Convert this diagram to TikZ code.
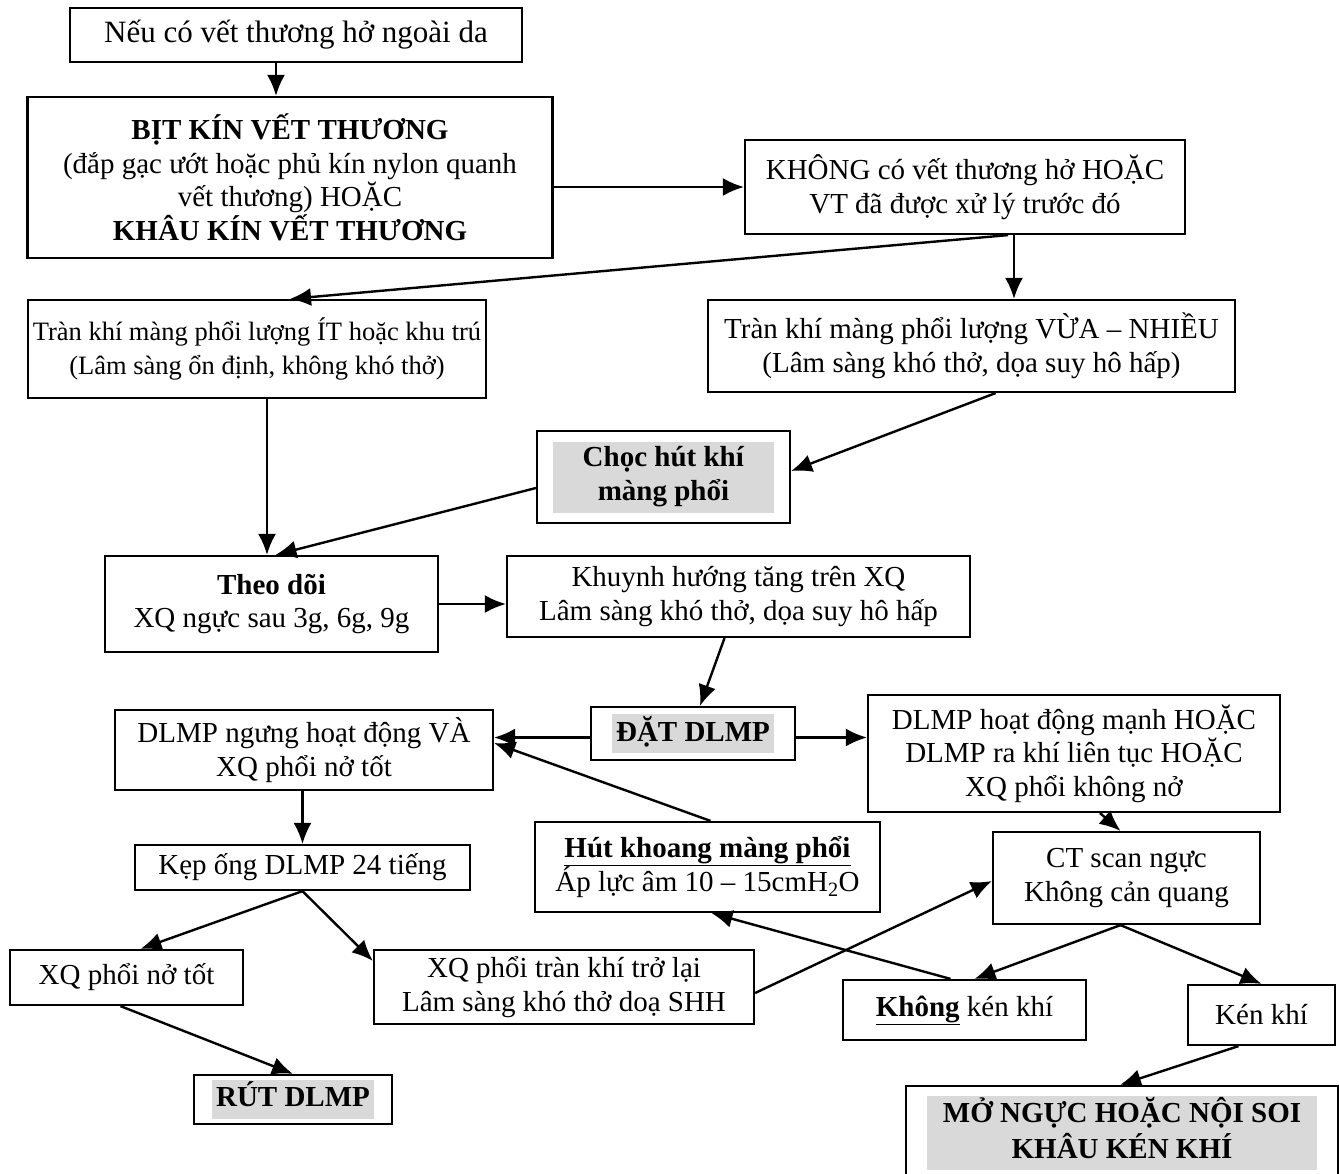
\documentclass[tikz,border=0pt]{standalone}
\usepackage{fontspec}
\setmainfont{Liberation Serif}
\usetikzlibrary{arrows.meta}
\definecolor{nenxam}{RGB}{217,217,217}
\newcommand{\chuxam}[2][3pt]{{\setlength{\fboxsep}{2pt}\colorbox{nenxam}{\begin{tabular}{@{\hspace{#1}}c@{\hspace{#1}}}#2\end{tabular}}}}

\begin{document}
\begin{tikzpicture}[
            x=1pt, y=-1pt,
            hop/.style={shape=rectangle, draw=black, line width=2.2pt, align=center, inner sep=3pt,
                font=\fontsize{29}{33.5}\selectfont},
            muiten/.style={line width=2.4pt, -{Latex[length=21pt,width=18pt]}},
        ]
        \useasboundingbox (0,0) rectangle (1339,1173);

        \node[hop, minimum width=452, minimum height=54, font=\fontsize{31}{35}\selectfont] (neu) at (296,35) {Nếu có vết thương hở ngoài da};
        \node[hop, minimum width=525, minimum height=161] (bit) at (290,177.5) {\textbf{BỊT KÍN VẾT THƯƠNG}\\(đắp gạc ướt hoặc phủ kín nylon quanh\\vết thương) HOẶC\\\textbf{KHÂU KÍN VẾT THƯƠNG}};
        \node[hop, minimum width=440, minimum height=94] (khong) at (965,187) {KHÔNG có vết thương hở HOẶC\\VT đã được xử lý trước đó};
        \node[hop, minimum width=458, minimum height=98, inner sep=1pt, font=\fontsize{26.5}{33.5}\selectfont] (tranit) at (257,349) {Tràn khí màng phổi lượng ÍT hoặc khu trú\\(Lâm sàng ổn định, không khó thở)};
        \node[hop, minimum width=527, minimum height=92] (trannhieu) at (971.5,346) {Tràn khí màng phổi lượng VỪA – NHIỀU\\(Lâm sàng khó thở, dọa suy hô hấp)};
        \node[hop, minimum width=253, minimum height=92] (choc) at (663.5,477) {\chuxam[28pt]{\textbf{Chọc hút khí}\\\textbf{màng phổi}}};
        \node[hop, minimum width=333, minimum height=96] (theodoi) at (271.5,604) {\textbf{Theo dõi}\\XQ ngực sau 3g, 6g, 9g};
        \node[hop, minimum width=463, minimum height=81] (khuynh) at (738.5,596.5) {Khuynh hướng tăng trên XQ\\Lâm sàng khó thở, dọa suy hô hấp};
        \node[hop, minimum width=378, minimum height=80] (dlmpngung) at (304,750) {DLMP ngưng hoạt động VÀ\\XQ phổi nở tốt};
        \node[hop, minimum width=204, minimum height=53] (dat) at (693,733.5) {\chuxam[2pt]{\textbf{ĐẶT DLMP}}};
        \node[hop, minimum width=412, minimum height=117] (dlmphd) at (1074,753.5) {DLMP hoạt động mạnh HOẶC\\DLMP ra khí liên tục HOẶC\\XQ phổi không nở};
        \node[hop, minimum width=335, minimum height=45] (kep) at (302.5,867.5) {Kẹp ống DLMP 24 tiếng};
        \node[hop, minimum width=345, minimum height=90] (hut) at (707.5,867) {\textbf{\underline{Hút khoang màng phổi}}\\Áp lực âm 10 – 15cmH\textsubscript{2}O};
        \node[hop, minimum width=267, minimum height=92] (ct) at (1126.5,878) {CT scan ngực\\Không cản quang};
        \node[hop, minimum width=233, minimum height=55] (xqno) at (126.5,977.5) {XQ phổi nở tốt};
        \node[hop, minimum width=380, minimum height=74] (xqtran) at (564,987) {XQ phổi tràn khí trở lại\\Lâm sàng khó thở doạ SHH};
        \node[hop, minimum width=243, minimum height=60] (khongken) at (964.5,1010) {\textbf{\underline{Không}} kén khí};
        \node[hop, minimum width=147, minimum height=60] (ken) at (1261.5,1015) {Kén khí};
        \node[hop, minimum width=198, minimum height=49] (rut) at (293,1099.5) {\chuxam[2pt]{\textbf{RÚT DLMP}}};
        \node[hop, minimum width=432, minimum height=94] (mo) at (1122,1133) {\chuxam[14pt]{\textbf{MỞ NGỰC HOẶC NỘI SOI}\\\textbf{KHÂU KÉN KHÍ}}};

        \draw[muiten] ([xshift=-20]neu.south) -- ([xshift=-20]neu.south |- bit.north);
        \draw[muiten] (bit.east |- khong.west) -- (khong.west);
        \draw[muiten] ([xshift=49]khong.south) -- ([xshift=49]khong.south |- trannhieu.north);
        \draw[muiten] ([xshift=43]khong.south) -- ([xshift=33]tranit.north);
        \draw[muiten] ([xshift=10]tranit.south) -- ([xshift=10]tranit.south |- theodoi.north);
        \draw[muiten] ([xshift=24]trannhieu.south) -- ([yshift=6]choc.east);
        \draw[muiten] ([yshift=-11]choc.west) -- ([xshift=4]theodoi.north);
        \draw[muiten] (theodoi.east) -- (theodoi.east -| khuynh.west);
        \draw[muiten] ([xshift=-14]khuynh.south) -- ([xshift=7]dat.north);
        \draw[muiten] ([yshift=-4]dat.west) -- ([yshift=-4]dat.west -| dlmpngung.east);
        \draw[muiten] ([yshift=-4]dat.east) -- ([yshift=-4]dat.east -| dlmphd.west);
        \draw[muiten] ([xshift=3]hut.north) -- ([yshift=7]dlmpngung.east);
        \draw[muiten] (kep.north |- dlmpngung.south) -- (kep.north);
        \draw[muiten] ([xshift=26]dlmphd.south) -- ([xshift=-6]ct.north);
        \draw[muiten] (kep.south) -- ([xshift=14]xqno.north);
        \draw[muiten] (kep.south) -- ([yshift=-12]xqtran.north west);
        \draw[muiten] ([xshift=-6]xqno.south) -- (rut.north);
        \draw[muiten] ([yshift=-6]xqtran.east) -- ([yshift=-3]ct.west);
        \draw[muiten] ([xshift=-14]khongken.north) -- ([xshift=4]hut.south);
        \draw[muiten] ([xshift=-6]ct.south) -- ([xshift=10]khongken.north);
        \draw[muiten] ([xshift=-6]ct.south) -- (ken.north);
        \draw[muiten] ([xshift=-23]ken.south) -- ([xshift=-2]mo.north);

    \end{tikzpicture}
\end{document}
